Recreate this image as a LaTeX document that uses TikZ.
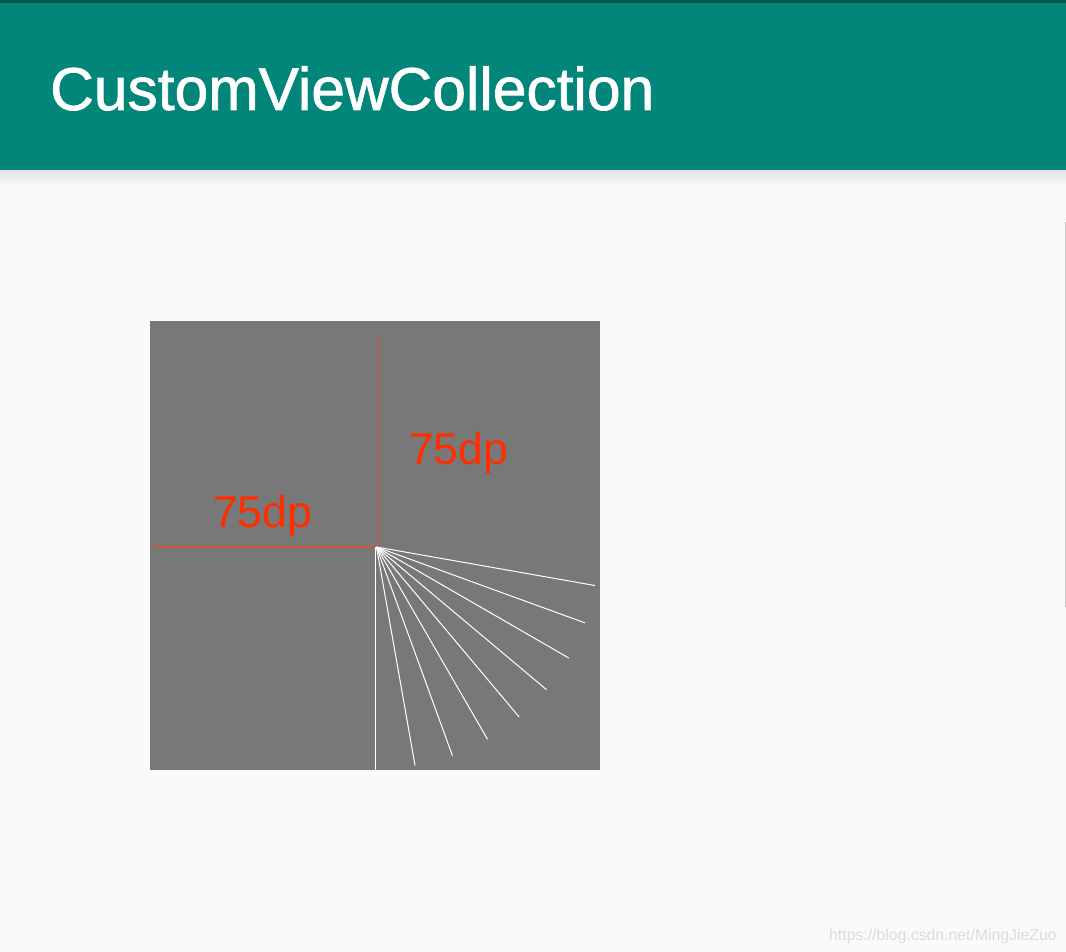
\documentclass[tikz,border=0pt]{standalone}
\usepackage{fontspec}
\setmainfont{Liberation Sans}
\newfontfamily\titlefont[FakeBold=1.2]{Liberation Sans}
\definecolor{bg}{HTML}{FAFAFA}
\definecolor{bar}{HTML}{03867A}
\definecolor{bardark}{HTML}{00574B}
\definecolor{canvasgray}{HTML}{787878}
\definecolor{labelred}{HTML}{FF2E00}
\definecolor{guidered}{HTML}{D4503A}
\definecolor{wm}{HTML}{DCDCDC}
\definecolor{shadow}{HTML}{E2E4E6}
\definecolor{scroll}{HTML}{C4C4C4}
\tikzset{
  txt/.style={inner sep=0pt, anchor=base west},
  guide/.style={guidered, line width=1.3pt},
  ray/.style={white, line width=1.0pt},
}
\begin{document}
\begin{tikzpicture}[x=1pt,y=-1pt]
\useasboundingbox (0,0) rectangle (1066,952);
\fill[bg] (0,0) rectangle (1066,952);
% app bar
\fill[bar] (0,0) rectangle (1066,171);
\fill[bardark] (0,0) rectangle (1066,3);
\shade[top color=shadow, bottom color=bg] (0,171) rectangle (1066,186);
\node[txt, white, font=\titlefont\fontsize{60.5}{70}\selectfont] (title) at (50,110) {CustomViewCollection};
% scroll indicator
\draw[scroll, line width=1.2pt] (1065.2,222) -- (1065.2,607);
% canvas
\fill[canvasgray] (150,321) rectangle (600,770);
\coordinate (c) at (376.5,547);
\coordinate (hl) at (153,547);
\coordinate (vt) at (378.5,333);
\coordinate (vc) at (378.5,547);
\draw[guide] (hl) -- (c);
\draw[guide] (vt) -- (vc);
\foreach \a in {10,20,...,80} {
  \draw[ray] (c) -- ++({222*cos(\a)},{222*sin(\a)});
}
\coordinate (bottom) at (375.5,770);
\draw[ray] (375.5,547) -- (bottom);
\node[txt, labelred, font=\fontsize{44.5}{52}\selectfont] (lab1) at (409,464) {75dp};
\node[txt, labelred, font=\fontsize{44.5}{52}\selectfont] (lab2) at (213,527) {75dp};
% watermark
\node[txt, wm, font=\fontsize{15.8}{18}\selectfont] (wmark) at (829,940) {https://blog.csdn.net/MingJieZuo};
\end{tikzpicture}
\end{document}
